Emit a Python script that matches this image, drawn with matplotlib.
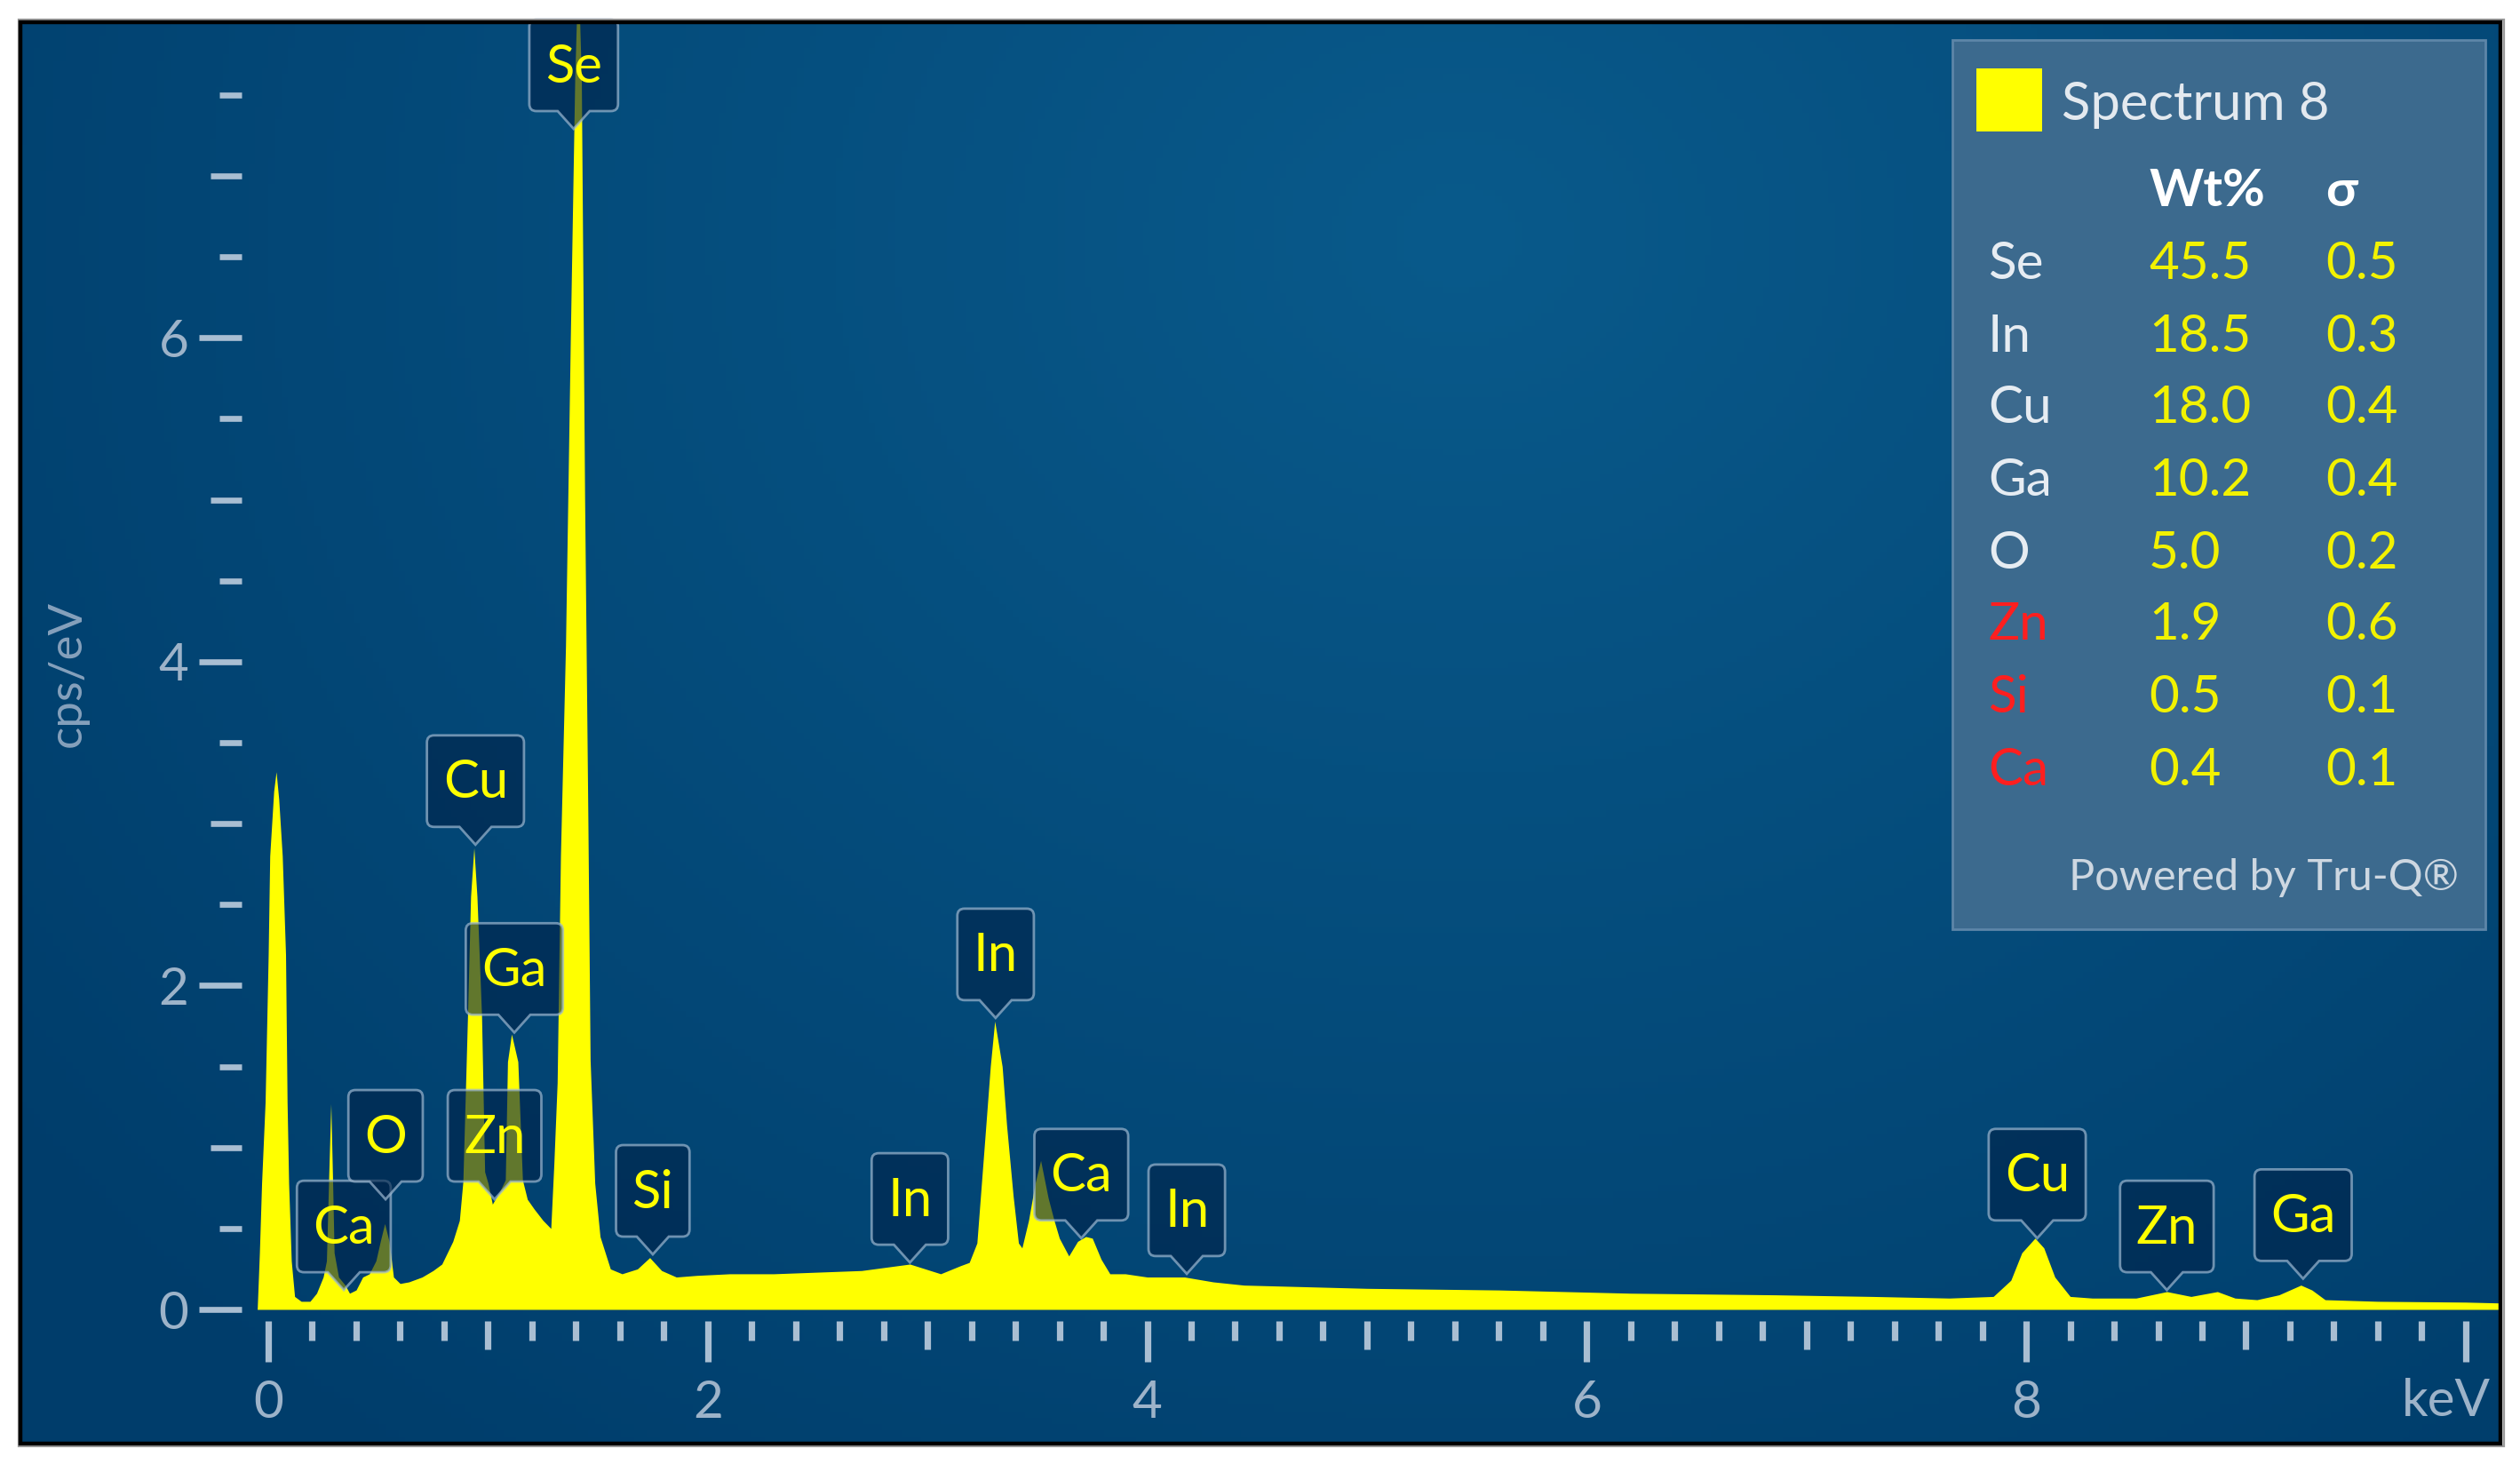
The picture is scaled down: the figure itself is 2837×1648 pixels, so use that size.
import numpy as np
import matplotlib.pyplot as plt
from matplotlib.path import Path
from matplotlib.patches import PathPatch, Rectangle
from matplotlib.transforms import IdentityTransform
from matplotlib.ticker import MultipleLocator

W, H, DPI = 2837, 1648, 200

# spectrum (keV, cps/eV)
energy = [-0.05, -0.04, -0.03, -0.014, 0.0, 0.007, 0.025, 0.036, 0.048, 0.064, 0.079, 0.086, 0.093, 0.105, 0.12,
          0.15, 0.19, 0.22, 0.25, 0.265, 0.275, 0.285, 0.293, 0.30, 0.32, 0.35, 0.37, 0.40, 0.43, 0.46, 0.49,
          0.51, 0.53, 0.55, 0.57, 0.60, 0.64, 0.70, 0.75, 0.79, 0.84, 0.87, 0.886, 0.907, 0.921, 0.936, 0.950,
          0.971, 0.985, 1.0, 1.02, 1.05, 1.079, 1.089, 1.107, 1.136, 1.157, 1.179, 1.21, 1.25, 1.286, 1.30,
          1.315, 1.33, 1.353, 1.375, 1.395, 1.41, 1.425, 1.44, 1.455, 1.465, 1.486, 1.51, 1.557, 1.61, 1.68,
          1.736, 1.79, 1.857, 1.95, 2.1, 2.3, 2.5, 2.7, 2.92, 3.06, 3.15, 3.19, 3.225, 3.266, 3.286, 3.306,
          3.34, 3.36, 3.39, 3.414, 3.43, 3.46, 3.49, 3.515, 3.549, 3.576, 3.60, 3.643, 3.683, 3.72, 3.75, 3.79,
          3.83, 3.9, 4.0, 4.17, 4.3, 4.44, 5.0, 5.6, 6.2, 6.86, 7.3, 7.65, 7.85, 7.93, 7.98, 8.04, 8.08, 8.13,
          8.2, 8.3, 8.5, 8.64, 8.75, 8.87, 8.95, 9.05, 9.15, 9.25, 9.3, 9.36, 9.6, 10.0, 10.15]
counts = [0.0, 0.35, 0.78, 1.28, 2.19, 2.8, 3.2, 3.32, 3.15, 2.8, 2.19, 1.28, 0.78, 0.3, 0.08,
          0.05, 0.05, 0.1, 0.2, 0.3, 0.8, 1.27, 0.8, 0.35, 0.2, 0.15, 0.1, 0.12, 0.2, 0.22, 0.3,
          0.42, 0.53, 0.42, 0.2, 0.16, 0.17, 0.2, 0.24, 0.28, 0.42, 0.55, 0.79, 1.81, 2.55, 2.85, 2.55,
          1.81, 0.85, 0.78, 0.65, 0.72, 0.8, 1.53, 1.70, 1.53, 0.8, 0.68, 0.62, 0.55, 0.5, 0.9,
          1.4, 2.8, 4.1, 6.0, 7.6, 8.3, 7.6, 5.0, 3.0, 1.54, 0.78, 0.45, 0.25, 0.22, 0.25,
          0.32, 0.24, 0.2, 0.21, 0.22, 0.22, 0.23, 0.24, 0.28, 0.22, 0.27, 0.29, 0.41, 1.14, 1.50, 1.78,
          1.50, 1.14, 0.7, 0.41, 0.38, 0.55, 0.78, 0.92, 0.69, 0.55, 0.44, 0.33, 0.42, 0.45, 0.44, 0.31,
          0.22, 0.22, 0.2, 0.2, 0.17, 0.15, 0.13, 0.12, 0.1, 0.09, 0.08, 0.07, 0.08, 0.18, 0.35, 0.44, 0.38, 0.2,
          0.08, 0.07, 0.07, 0.11, 0.08, 0.11, 0.07, 0.06, 0.09, 0.15, 0.12, 0.06, 0.05, 0.045, 0.04]

# peak markers
peak_names = ['Ca', 'O', 'Cu', 'Zn', 'Ga', 'Se', 'Si', 'In', 'In', 'Ca', 'In', 'Cu', 'Zn', 'Ga']
peak_kev = [0.344, 0.534, 0.943, 1.03, 1.12, 1.39, 1.75, 2.92, 3.31, 3.70, 4.18, 8.05, 8.64, 9.26]
peak_tip = [0.12, 0.68, 2.87, 0.68, 1.71, 7.29, 0.34, 0.29, 1.80, 0.44, 0.22, 0.44, 0.12, 0.19]

# quantification table
elements = ['Se', 'In', 'Cu', 'Ga', 'O', 'Zn', 'Si', 'Ca']
wt_pct = ['45.5', '18.5', '18.0', '10.2', '5.0', '1.9', '0.5', '0.4']
sigma = ['0.5', '0.3', '0.4', '0.4', '0.2', '0.6', '0.1', '0.1']
flagged = ['Zn', 'Si', 'Ca']

plt.rcParams['font.family'] = ['Lato', 'DejaVu Sans']

TICK_C = '#a9bed2'
LAB_C = '#9db3c9'
YELLOW = '#ffff00'


def fx(x):
    return x / W


def fy(y):
    return 1 - y / H


fig = plt.figure(figsize=(W / DPI, H / DPI), dpi=DPI)
fig.patch.set_facecolor('white')

# background panel with soft radial glow
bg = fig.add_axes([fx(23), fy(1625), (2815 - 23) / W, (1625 - 25) / H])
yy, xx = np.mgrid[0:1:220j, 0:1:380j]
t = np.clip(np.hypot((xx - 0.58) * 1.5, yy - 0.15) / 1.1, 0, 1)
c0 = np.array([0x09, 0x5a, 0x8b]) / 255
c1 = np.array([0x00, 0x3d, 0x6b]) / 255
bg.imshow(c0 * (1 - t)[..., None] + c1 * t[..., None], extent=[0, 1, 0, 1], aspect='auto', origin='upper')
bg.axis('off')
fig.add_artist(Rectangle((fx(21), fy(1628)), (2819 - 21) / W, (1628 - 22) / H, transform=fig.transFigure,
                         fill=False, edgecolor='#9a9a9a', lw=0.8, zorder=10))
fig.add_artist(Rectangle((fx(23), fy(1625)), (2815 - 23) / W, (1625 - 25) / H, transform=fig.transFigure,
                         fill=False, edgecolor='black', lw=1.6, zorder=10))

# spectrum axes
ax = fig.add_axes([fx(289.6), fy(1474), (2813 - 289.6) / W, (1474 - 27) / H])
ax.set_facecolor('none')
ax.set_xlim(-0.05, 10.15)
ax.set_ylim(0, (1474 - 27) / 182.3)
ax.fill_between(energy, counts, 0, color=YELLOW, lw=0, zorder=2)

for s in ax.spines.values():
    s.set_visible(False)
ax.spines['bottom'].set_position(('outward', 4.7))
ax.spines['left'].set_position(('outward', 6.5))

ax.set_xticks([0, 2, 4, 6, 8, 10], ['0', '2', '4', '6', '8', ''])
ax.xaxis.set_minor_locator(MultipleLocator(0.2))
ax.set_yticks([0, 2, 4, 6], ['0', '2', '4', '6'])
ax.yaxis.set_minor_locator(MultipleLocator(0.5))
ax.tick_params(axis='x', which='major', length=16.6, width=2.6, color=TICK_C, pad=7,
               labelsize=21, labelcolor=LAB_C)
ax.tick_params(axis='x', which='minor', length=7.9, width=2.6, color=TICK_C)
ax.tick_params(axis='y', which='major', length=17.3, width=2.4, color=TICK_C, pad=4,
               labelsize=21, labelcolor=LAB_C)
ax.tick_params(axis='y', which='minor', length=9, width=2.4, color=TICK_C)

fig.text(fx(76), fy(758), 'cps/eV', rotation=90, ha='center', va='center', fontsize=19, color='#86a1bc')
fig.text(fx(2754), fy(1577), 'keV', ha='center', va='center', fontsize=21, color=LAB_C)

fig.canvas.draw()
renderer = fig.canvas.get_renderer()

# medium ticks on odd integers
for tk in ax.xaxis.get_minor_ticks():
    loc = tk.get_loc()
    if loc is not None and abs(loc - round(loc)) < 1e-6 and round(loc) % 2 == 1:
        tk.tick1line.set_markersize(11.5)
for tk in ax.yaxis.get_minor_ticks():
    loc = tk.get_loc()
    if loc is not None and abs(loc - round(loc)) < 1e-6 and round(loc) % 2 == 1:
        tk.tick1line.set_markersize(12.6)


def callout(tx, ty, w, h, tail_h=20, tail_w=18, r=8):
    yb = ty + tail_h
    yt = yb + h
    xl, xr = tx - w / 2, tx + w / 2
    verts = [(tx, ty), (tx + tail_w, yb), (xr - r, yb), (xr, yb), (xr, yb + r), (xr, yt - r), (xr, yt),
             (xr - r, yt), (xl + r, yt), (xl, yt), (xl, yt - r), (xl, yb + r), (xl, yb), (xl + r, yb),
             (tx - tail_w, yb), (tx, ty)]
    codes = [Path.MOVETO, Path.LINETO, Path.LINETO, Path.CURVE3, Path.CURVE3, Path.LINETO, Path.CURVE3,
             Path.CURVE3, Path.LINETO, Path.CURVE3, Path.CURVE3, Path.LINETO, Path.CURVE3, Path.CURVE3,
             Path.LINETO, Path.CLOSEPOLY]
    return Path(verts, codes)


BOX_H = 103
for name, e, tip in zip(peak_names, peak_kev, peak_tip):
    tx, ty = ax.transData.transform((e, tip))
    txt = ax.text(tx, ty + 20 + BOX_H / 2 - 2, name, transform=IdentityTransform(), ha='center',
                  va='center', fontsize=21.5, color=YELLOW, zorder=6, clip_on=False)
    tw = txt.get_window_extent(renderer=renderer).width
    ax.add_patch(PathPatch(callout(tx, ty, tw + 36, BOX_H), transform=IdentityTransform(),
                           facecolor=(0.0, 0.14, 0.29, 0.62), edgecolor=(0.62, 0.72, 0.82, 0.7),
                           lw=1.0, zorder=5, clip_on=False))

# quantification box
fig.add_artist(Rectangle((fx(2198), fy(1046)), 600 / W, 1001 / H, transform=fig.transFigure,
                         facecolor='#3c6a8e', edgecolor='#5d86a8', lw=1.0, zorder=8))
fig.add_artist(Rectangle((fx(2225), fy(148)), 74 / W, 71 / H, transform=fig.transFigure,
                         facecolor=YELLOW, edgecolor='none', zorder=9))
fig.text(fx(2321), fy(118), 'Spectrum 8', ha='left', va='center', fontsize=21.5, color='#e3e9ef', zorder=9)
fig.text(fx(2419), fy(216), 'Wt%', ha='left', va='center', fontsize=21, color='white',
         fontweight='bold', zorder=9)
fig.text(fx(2618), fy(216), 'σ', ha='left', va='center', fontsize=21, color='white',
         fontweight='bold', zorder=9)
row_y = [297, 379, 460, 541, 623, 704, 786, 867]
for el, wt, sg, y in zip(elements, wt_pct, sigma, row_y):
    fig.text(fx(2238), fy(y), el, ha='left', va='center', fontsize=21,
             color='#ff1f1f' if el in flagged else '#e6ecf2', zorder=9)
    fig.text(fx(2419), fy(y), wt, ha='left', va='center', fontsize=21, color='#f2f200', zorder=9)
    fig.text(fx(2618), fy(y), sg, ha='left', va='center', fontsize=21, color='#f2f200', zorder=9)
fig.text(fx(2768), fy(988), 'Powered by Tru-Q®', ha='right', va='center', fontsize=17.5,
         color='#cdd7e1', zorder=9)

fig.savefig('out.png', dpi=DPI, facecolor='white')
